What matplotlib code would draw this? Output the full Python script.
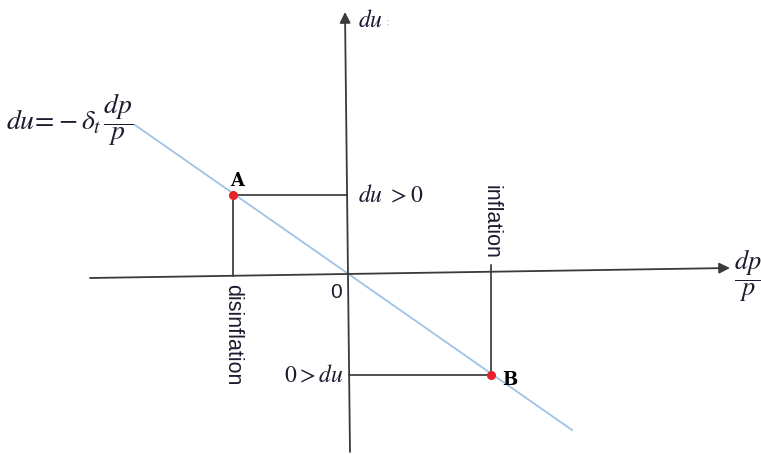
import matplotlib.pyplot as plt
import numpy as np

plt.rcParams['mathtext.fontset'] = 'stix'

# diagram geometry in picture pixels (x right, y down)
x_axis = [(90, 278), (730, 268)]
y_axis = [(350, 452), (345, 12)]
curve = [(135, 125), (572, 430)]
point_a = (233, 195)
point_b = (491, 375)
origin = (348, 273)

fig = plt.figure(figsize=(7.61, 4.54), dpi=100)
ax = fig.add_axes([0, 0, 1, 1])
ax.set_xlim(0, 761)
ax.set_ylim(454, 0)
ax.axis('off')

axis_col = '#3a3a3a'
text_col = '#1c1c30'

# axes with arrows
ax.annotate('', xy=x_axis[1], xytext=x_axis[0],
            arrowprops=dict(arrowstyle='-|>', mutation_scale=16, color=axis_col, lw=1.3, shrinkA=0, shrinkB=0))
ax.annotate('', xy=y_axis[1], xytext=y_axis[0],
            arrowprops=dict(arrowstyle='-|>', mutation_scale=16, color=axis_col, lw=1.3, shrinkA=0, shrinkB=0))

# demand line
cx, cy = zip(*curve)
ax.plot(cx, cy, color='#9dc3e6', lw=1.3, zorder=2)

# guide lines from A and B
ax.plot([point_a[0], point_a[0]], [point_a[1], 276], color='#222222', lw=1.1)
ax.plot([point_a[0], 347], [point_a[1], point_a[1]], color='#222222', lw=1.1)
ax.plot([point_b[0], point_b[0]], [point_b[1], 265], color='#222222', lw=1.1)
ax.plot([349, point_b[0]], [point_b[1], point_b[1]], color='#222222', lw=1.1)

ax.plot(*zip(point_a, point_b), linestyle='none', marker='o', ms=5.5, color='#e8202a', zorder=4)

# labels
ax.text(point_a[0] + 4, point_a[1] - 5, 'A', fontfamily='DejaVu Serif', fontweight='bold',
        fontsize=13, ha='center', va='bottom', color='black')
ax.text(point_b[0] + 19, point_b[1] + 5, 'B', fontfamily='DejaVu Serif', fontweight='bold',
        fontsize=13, ha='center', va='center', color='black')
ax.text(358, point_a[1], r'$du\ {>}0$', fontsize=17, ha='left', va='center', color=text_col)
ax.text(344, point_b[1], r'$0{>}du$', fontsize=17, ha='right', va='center', color=text_col)
ax.text(336, 292, '0', fontfamily='Liberation Sans', fontsize=15, ha='center', va='center', color=text_col)
ax.text(point_a[0], 284, 'disinflation', fontfamily='Liberation Sans', fontsize=15.5,
        rotation=-90, ha='center', va='top', color=text_col)
ax.text(point_b[0], 185, 'inflation', fontfamily='Liberation Sans', fontsize=15.5,
        rotation=-90, ha='center', va='top', color=text_col)
ax.text(358, 20, r'$du$', fontsize=17, ha='left', va='center', color=text_col)
ax.text(386, 22, ':', fontsize=8, ha='left', va='center', color='#999999')
ax.text(748, 276, r'$\dfrac{dp}{p}$', fontsize=19, ha='center', va='center', color=text_col)
ax.text(6, 120, r'$du\!=\!-\delta_t\,\dfrac{dp}{p}$', fontsize=20, ha='left', va='center', color=text_col)

plt.savefig('out.png', dpi=100)
